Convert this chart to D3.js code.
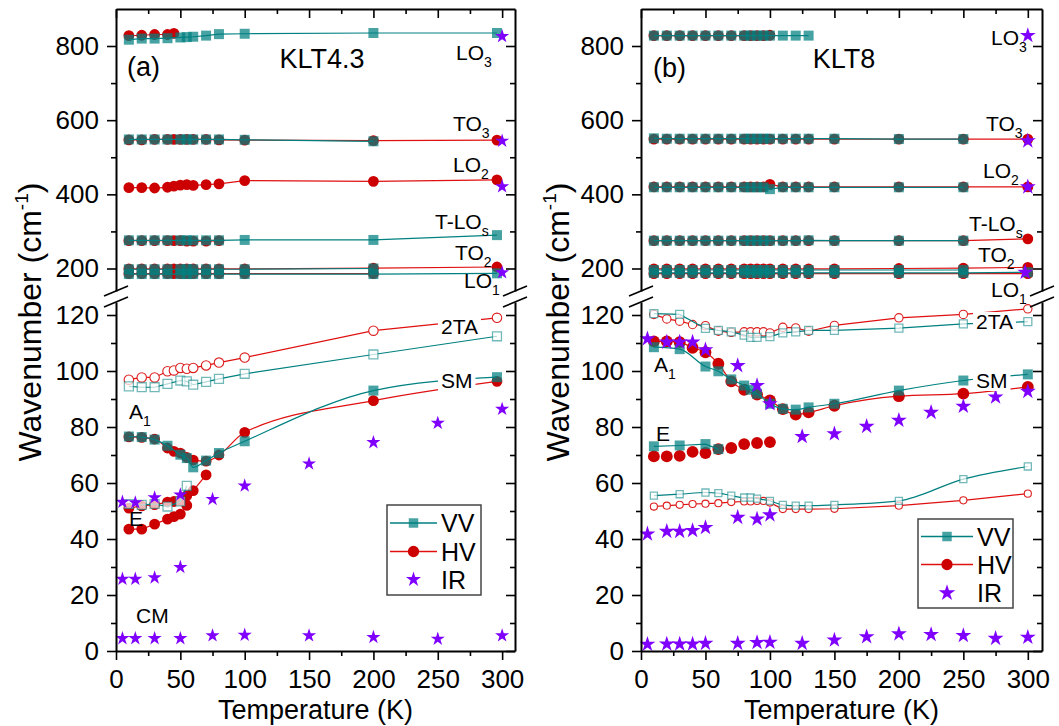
<!DOCTYPE html>
<html><head><meta charset="utf-8">
<script src="https://cdn.jsdelivr.net/npm/d3@7"></script>
<style>body{margin:0;background:#fff} text{font-family:"Liberation Sans",Arial,sans-serif;fill:#000}</style>
</head><body><svg id="c" width="1059" height="726" xmlns="http://www.w3.org/2000/svg"></svg>
<script>
// ---------------- DATA ----------------
// Panel (a) KLT4.3 temperatures
const T_HV_A = [10,20,30,40,45,50,55,60,70,80,100,200,296];
const T_VV_A = [10,20,30,40,50,55,60,70,80,100,200,296];
// upper (high-frequency) modes, panel a
const A_LO3_HV_T = [10,20,30,40,45];
const A_LO3_HV = [828,829,831,831,834];
const A_LO3_VV = [817,820,820,821,823,824,825,828,832,833,835,835];
const A_TO3_HV = [547,547,548,548,548,548,548,548,548,547,546,545,546];
const A_TO3_VV_T = [10,20,30,40,50,55,60,70,80,100,200];
const A_TO3_VV = [548,548,548,548,548,548,548,548,548,547,543];
const A_LO2_HV = [418,418,417,419,422,425,426,424,426,428,437,435,439];
const A_TLO_HV_T = [10,20,30,40,45,50,55,60,70,80];
const A_TLO_HV = [275,275,275,275,275,275,274,274,274,275];
const A_TLO_VV = [276,276,276,276,276,276,276,276,276,277,277,290];
const A_TO2_HV = [199,199,199,199,199,199,199,199,199,199,199,201,204];
const A_TO2_VV_T = [10,20,30,40,50,55,60,70,80,100,200];
const A_TO2_VV = [198,198,198,198,198,198,198,198,198,198,200];
const A_LO1_HV_T = [10,20,30,40,45,50,55,60,70,80,100,200];
const A_LO1_HV = [186,186,186,186,186,186,186,186,186,186,186,186];
const A_LO1_VV = [185,185,185,185,185,185,185,185,185,185,185,187];
// low-frequency modes, panel a
const A_2TA_HV = [96.9,97.7,97.7,99.9,100.2,101.1,100.8,101.1,102.0,103.0,104.8,114.4,119.0];
const A_2TA_VV = [94.5,94.2,94.2,95.4,96.6,96.3,95.1,96.1,97.2,99.0,105.9,112.4];
const A_A1_HV = [76.5,76.3,75.7,72.5,71.3,70.7,69.1,68.2,67.8,70.0,78.1,89.4,96.3];
const A_A1_VV = [76.6,76.4,75.5,73.3,70.1,68.9,65.6,68.0,70.7,74.9,93.0,97.8];
const A_E_HV_T = [10,20,30,40,45,50,55,60,70];
const A_E_HV = [43.5,43.5,45.3,47.1,48.0,48.9,52.0,57.3,62.9];
const A_E2_HV_T = [10,20,30,40,45,50,55];
const A_E2_HV = [51.0,51.8,52.3,53.2,53.4,53.8,55.5];
const A_E2_VV_T = [10,20,30,40,50,55];
const A_E2_VV = [52.5,52.2,52.5,51.6,53.4,59.0];
// IR, panel a
const IR_A_UP_T = [300,300,300,300];
const IR_A_UP = [826,544,421,189];
const IR_A_T1 = [5,15,30,50,75,100,150,200,250,300];
const IR_A_1 = [53.2,53.0,54.8,55.8,54.2,59.0,66.9,74.5,81.4,86.4];
const IR_A_T2 = [5,15,30,50];
const IR_A_2 = [25.7,25.7,26.2,29.9];
const IR_A_T3 = [5,15,30,50,75,100,150,200,250,300];
const IR_A_3 = [4.5,4.5,4.5,4.5,5.5,5.7,5.5,4.9,4.3,5.5];

// Panel (b) KLT8 temperatures
const T_B = [10,20,30,40,50,60,70,80,85,90,95,100,110,120,130,150,200,250,300];
const T_B_VV = [10,30,50,60,70,80,85,90,100,110,120,130,150,200,250,300];
const T_B_UP_VV = [10,20,30,40,50,60,70,80,85,90,95,100,110,120,130,150,200,250];
// upper modes, panel b
const B_LO3_HV_T = [10,20,30,40,50,60,70,80,85,90,95,100];
const B_LO3_HV = [828,828,828,828,828,828,828,828,828,828,828,829];
const B_LO3_VV_T = [10,20,30,40,50,60,70,80,85,90,95,100,110,120,130];
const B_LO3_VV = [828,828,828,828,828,828,828,828,828,828,828,828,828,828,828];
const B_TO3_HV = [549,549,549,549,549,549,549,549,549,549,549,549,549,549,549,549,549,549,549];
const B_TO3_VV = [551,550,550,550,550,550,550,550,550,550,550,550,550,550,550,550,549,549];
const B_LO2_HV = [420,420,420,420,420,420,420,420,420,420,420,427,420,420,420,420,420,420,420];
const B_LO2_VV = [419,419,419,419,419,419,419,419,419,419,419,414,419,419,419,419,419,419];
const B_TLO_HV = [275,275,275,275,275,275,275,275,275,275,275,275,275,275,275,275,275,275,280];
const B_TLO_VV = [275,275,275,275,275,275,275,275,275,275,275,275,275,275,276,275,275,275];
const B_TO2_HV = [199,199,199,199,199,199,199,199,199,199,199,199,199,199,199,199,200,201,203];
const B_TO2_VV = [196,196,196,196,196,196,196,196,196,196,196,196,196,196,196,196,196,196];
const B_LO1_HV = [186,186,186,186,186,186,186,186,186,186,186,186,186,186,186,186,186,186,186];
const B_LO1_VV = [188,188,188,188,188,188,188,188,188,188,188,188,188,188,188,188,188,188,190];
// low modes, panel b
const B_2TA_HV = [120.2,118.6,117.8,116.6,116.2,114.2,113.8,114.0,114.0,114.0,114.0,113.6,115.6,115.4,114.2,116.3,119.0,120.2,122.2];
const B_2TA_VV = [120.5,120.2,115.2,114.5,114.0,112.8,112.0,112.0,112.3,113.6,114.0,114.5,114.5,115.3,116.8,117.6];
const B_A1_HV_T = [10,20,30,40,50,60,70,80,90,100,110,120,130,150,200,250,300];
const B_A1_HV = [110.6,110.6,110.3,108.3,106.7,102.6,96.3,93.3,91.6,89.5,86.4,84.4,85.2,87.6,91.0,91.9,94.3];
const B_A1_VV = [108.5,107.8,101.6,99.9,97.0,94.8,93.3,91.9,88.3,86.5,86.2,87.0,88.3,93.0,96.6,98.8];
const B_E_VV_T = [10,30,50,60];
const B_E_VV = [73.1,73.4,73.9,72.1];
const B_E_HV_T = [10,20,30,40,50,60,70,80,90,100];
const B_E_HV = [69.5,69.5,69.7,71.1,70.7,72.1,72.5,73.9,74.3,74.6];
const B_LOW_VV = [55.5,56.0,56.6,56.4,55.5,54.8,54.8,54.4,53.6,52.2,51.9,51.9,52.2,53.6,61.4,65.9];
const B_LOW_HV = [51.6,51.9,52.2,52.5,52.6,52.8,53.2,53.4,53.4,53.6,53.6,53.0,50.7,50.7,50.7,50.8,51.9,53.8,56.2];
// IR, panel b
const IR_B_UP_T = [300,300,300,298];
const IR_B_UP = [828,544,420,190];
const IR_B_T1 = [5,20,30,40,50,75,90,100,125,150,175,200,225,250,275,300];
const IR_B_1 = [111.5,110.3,110.3,110.3,107.6,101.9,94.8,88.3,76.6,77.6,80.2,82.4,85.2,87.4,90.7,92.7];
const IR_B_T2 = [5,20,30,40,50,75,90,100];
const IR_B_2 = [41.8,42.7,42.7,43.0,44.1,47.7,47.1,48.6];
const IR_B_3 = [2.4,2.5,2.5,2.5,2.7,2.7,3.0,3.1,2.7,3.9,5.1,6.1,5.9,5.5,4.5,4.9];

// axis ticks
const X_TICKS = [0,50,100,150,200,250,300];
const X_MINOR = [25,75,125,175,225,275];
const YU_TICKS = [200,400,600,800];
const YU_MINOR = [300,500,700];
const YL_TICKS = [0,20,40,60,80,100,120];
const YL_MINOR = [10,30,50,70,90,110];
const LEGEND = ['VV','HV','IR'];

// ---------------- STYLE ----------------
const TEAL = '#008080', TEAL_FILL = 'rgba(0,128,128,0.72)';
const RED = '#cc0000', RED_LINE = '#e01010', PURPLE = '#8000ff';
const TOP = 9, BOTTOM = 651, BRK_U = 291, BRK_L = 302;

const svg = d3.select('#c');

function S(T, v, kind, o = {}) { return Object.assign({T, v, kind}, o); }

const panels = [
  { left:116, right:515, xmax:310, ytx:30, starSize:62,
    series:[
      S(A_LO3_HV_T, A_LO3_HV,'HV',{line:1}), S(T_VV_A, A_LO3_VV,'VV',{line:1}),
      S(T_HV_A, A_TO3_HV,'HV',{line:1}), S(A_TO3_VV_T, A_TO3_VV,'VV',{line:1}),
      S(T_HV_A, A_LO2_HV,'HV',{line:1}),
      S(A_TLO_HV_T, A_TLO_HV,'HV',{line:1}), S(T_VV_A, A_TLO_VV,'VV',{line:1}),
      S(T_HV_A, A_TO2_HV,'HV',{line:1}), S(A_TO2_VV_T, A_TO2_VV,'VV',{line:1}),
      S(A_LO1_HV_T, A_LO1_HV,'HV',{line:1}), S(T_VV_A, A_LO1_VV,'VV',{line:1}),
      S(T_HV_A, A_2TA_HV,'HV',{line:1, open:1, size:70}), S(T_VV_A, A_2TA_VV,'VV',{line:1, open:1, size:80}),
      S(T_HV_A, A_A1_HV,'HV',{line:1, curve:d3.curveMonotoneX}), S(T_VV_A, A_A1_VV,'VV',{line:1, curve:d3.curveMonotoneX}),
      S(A_E_HV_T, A_E_HV,'HV',{line:1}),
      S(A_E2_HV_T, A_E2_HV,'HV',{line:1}), S(A_E2_VV_T, A_E2_VV,'VV',{line:1, open:1, size:80}),
      S(IR_A_UP_T, IR_A_UP,'IR'), S(IR_A_T1, IR_A_1,'IR'), S(IR_A_T2, IR_A_2,'IR'), S(IR_A_T3, IR_A_3,'IR')
    ],
    labels:[
      ['LO','3',456,60],['TO','3',453,131],['LO','2',453,172],['T-LO','s',435,229],
      ['TO','2',455,260],['LO','1',464,288],['2TA','',441,334,1],['SM','',441,388,1],
      ['A','1',129,419],['E','',129,526],['CM','',136,623]
    ],
    tag:['(a)',127,76], title:['KLT4.3',322,68],
    legend:{x:387,y:505,w:94,h:90,rows:[523,551.5,579.5],lx0:390,lx1:437,tx:441}
  },
  { left:641, right:1042, xmax:311, ytx:558, starSize:78,
    series:[
      S(B_LO3_HV_T, B_LO3_HV,'HV',{line:1}), S(B_LO3_VV_T, B_LO3_VV,'VV',{line:1}),
      S(T_B, B_TO3_HV,'HV',{line:1}), S(T_B_UP_VV, B_TO3_VV,'VV',{line:1}),
      S(T_B, B_LO2_HV,'HV',{line:1}), S(T_B_UP_VV, B_LO2_VV,'VV',{line:1}),
      S(T_B, B_TLO_HV,'HV',{line:1}), S(T_B_UP_VV, B_TLO_VV,'VV',{line:1}),
      S(T_B, B_TO2_HV,'HV',{line:1}), S(T_B_UP_VV, B_TO2_VV,'VV',{line:1}),
      S(T_B, B_LO1_HV,'HV',{line:1}), S(T_B, B_LO1_VV,'VV',{line:1}),
      S(T_B, B_2TA_HV,'HV',{line:1, open:1, size:55}), S(T_B_VV, B_2TA_VV,'VV',{line:1, open:1, size:64}),
      S(B_A1_HV_T, B_A1_HV,'HV',{line:1, curve:d3.curveMonotoneX, size:110}), S(T_B_VV, B_A1_VV,'VV',{line:1, curve:d3.curveMonotoneX, size:100}),
      S(B_E_HV_T, B_E_HV,'HV',{size:110}), S(B_E_VV_T, B_E_VV,'VV',{line:1, size:100}),
      S(T_B, B_LOW_HV,'HV',{line:1, open:1, size:40}), S(T_B_VV, B_LOW_VV,'VV',{line:1, open:1, size:50, curve:d3.curveMonotoneX}),
      S(IR_B_UP_T, IR_B_UP,'IR'), S(IR_B_T1, IR_B_1,'IR'), S(IR_B_T2, IR_B_2,'IR'), S(IR_B_T1, IR_B_3,'IR')
    ],
    labels:[
      ['LO','3',991,45],['TO','3',986,131],['LO','2',983,178],['T-LO','s',969,231],
      ['TO','2',978,262],['LO','1',991,297],['2TA','',976,329,1],['SM','',976,388,1],
      ['A','1',654,372],['E','',656,441]
    ],
    tag:['(b)',653,77], title:['KLT8',844,68],
    legend:{x:918,y:519,w:95,h:89,rows:[536.5,564.5,593],lx0:921,lx1:973,tx:977}
  }
];

function drawPanel(P) {
  const g = svg.append('g');
  const x = d3.scaleLinear([0, P.xmax], [P.left, P.right]);
  const yU = d3.scaleLinear([800 - (BRK_U - 46) / 0.37083, 800 + 37 / 0.37083], [BRK_U, TOP]);
  const yL = d3.scaleLinear([0, (BOTTOM - BRK_L) / 2.8], [BOTTOM, BRK_L]);
  const Y = v => v >= 140 ? yU(v) : yL(v);

  const layers = {HVl:g.append('g'), HVm:g.append('g'), VVl:g.append('g'), VVm:g.append('g'), IR:g.append('g')};
  P.series.forEach(s => {
    const pts = s.T.map((t, i) => [x(t), Y(s.v[i])]);
    if (s.kind === 'IR') {
      pts.forEach(p => layers.IR.append('path').attr('transform', `translate(${p})`)
        .attr('d', d3.symbol(d3.symbolStar, P.starSize)()).attr('fill', PURPLE));
      return;
    }
    const isVV = s.kind === 'VV';
    if (s.line) {
      (isVV ? layers.VVl : layers.HVl).append('path')
        .attr('d', d3.line().curve(s.curve || d3.curveLinear)(pts))
        .attr('fill', 'none').attr('stroke', isVV ? TEAL : RED_LINE).attr('stroke-width', 1.2);
    }
    const type = isVV ? d3.symbolSquare : d3.symbolCircle;
    const size = s.size || (isVV ? 100 : 92);
    pts.forEach(p => {
      const m = (isVV ? layers.VVm : layers.HVm).append('path').attr('transform', `translate(${p})`)
        .attr('d', d3.symbol(type, size)());
      if (s.open) {
        if (isVV) m.attr('fill', 'rgba(255,255,255,0.7)').attr('stroke', 'rgba(0,128,128,0.55)').attr('stroke-width', 1.3);
        else m.attr('fill', '#fff').attr('stroke', '#dd1f1f').attr('stroke-width', 1.1);
      } else m.attr('fill', isVV ? TEAL_FILL : RED);
    });
  });

  // labels
  P.labels.forEach(([main, sub, lx, ly, bg]) => {
    const t = g.append('text').attr('x', lx).attr('y', ly).attr('font-size', 21);
    t.append('tspan').text(main);
    if (sub) t.append('tspan').attr('font-size', 14).attr('dy', 7).text(sub);
    if (bg) {
      const b = t.node().getBBox();
      g.insert('rect', () => t.node()).attr('x', b.x - 3).attr('y', b.y + 2).attr('width', b.width + 6)
        .attr('height', b.height - 3).attr('fill', '#fff');
    }
  });
  g.append('text').attr('x', P.tag[1]).attr('y', P.tag[2]).attr('font-size', 27).text(P.tag[0]);
  g.append('text').attr('x', P.title[1]).attr('y', P.title[2]).attr('font-size', 27)
    .attr('text-anchor', 'middle').text(P.title[0]);

  // axes
  const ax = g.append('g');
  const style = sel => {
    sel.selectAll('.domain').attr('stroke', '#000').attr('stroke-width', 2);
    sel.selectAll('.tick line').attr('stroke', '#000').attr('stroke-width', 1.6);
    sel.selectAll('.tick text').attr('font-size', 26).attr('font-family', '"Liberation Sans",Arial,sans-serif');
  };
  const add = (axisFn, scale, tv, size, pad, tr, label, domain) => {
    const a = axisFn(scale).tickValues(tv).tickSize(size).tickSizeOuter(0).tickPadding(pad);
    if (!label) a.tickFormat('');
    const s = ax.append('g').attr('transform', tr).call(a);
    if (!domain) s.select('.domain').remove();
    style(s);
  };
  [[yU, YU_TICKS, YU_MINOR], [yL, YL_TICKS, YL_MINOR]].forEach(([sc, maj, min]) => {
    add(d3.axisLeft, sc, maj, 9, 8, `translate(${P.left},0)`, true, true);
    add(d3.axisLeft, sc, min, 5, 8, `translate(${P.left},0)`, false, false);
    add(d3.axisLeft, sc, maj, 9, 8, `translate(${P.right},0)`, false, true);
    add(d3.axisLeft, sc, min, 5, 8, `translate(${P.right},0)`, false, false);
  });
  add(d3.axisBottom, x, X_TICKS, 9, 10, `translate(0,${BOTTOM})`, true, true);
  add(d3.axisBottom, x, X_MINOR, 5, 10, `translate(0,${BOTTOM})`, false, false);
  add(d3.axisBottom, x, X_TICKS, 9, 10, `translate(0,${TOP})`, false, true);
  add(d3.axisBottom, x, X_MINOR, 5, 10, `translate(0,${TOP})`, false, false);

  // axis breaks
  [P.left, P.right].forEach(bx => {
    [BRK_U, BRK_L].forEach(by => {
      ax.append('line').attr('x1', bx - 12).attr('y1', by + 5).attr('x2', bx + 12).attr('y2', by - 5)
        .attr('stroke', '#000').attr('stroke-width', 1.6);
    });
  });

  // axis titles
  g.append('text').attr('x', (P.left + P.right) / 2).attr('y', 719).attr('text-anchor', 'middle')
    .attr('font-size', 27).text('Temperature (K)');
  const yt = g.append('text').attr('transform', `translate(${P.ytx},322) rotate(-90)`)
    .attr('text-anchor', 'middle').attr('font-size', 32).attr('dy', '0.35em');
  yt.append('tspan').text('Wavenumber (cm');
  yt.append('tspan').attr('font-size', 19).attr('dy', -13).text('-1');
  yt.append('tspan').attr('dy', 13).text(')');

  // legend
  const L = P.legend;
  const lg = g.append('g');
  lg.append('rect').attr('x', L.x).attr('y', L.y).attr('width', L.w).attr('height', L.h)
    .attr('fill', '#fff').attr('stroke', '#444').attr('stroke-width', 1.5);
  LEGEND.forEach((name, i) => {
    const ly = L.rows[i], mx = (L.lx0 + L.lx1) / 2;
    if (name !== 'IR') lg.append('line').attr('x1', L.lx0).attr('x2', L.lx1).attr('y1', ly).attr('y2', ly)
      .attr('stroke', name === 'VV' ? TEAL : RED_LINE).attr('stroke-width', 1.3);
    const type = name === 'VV' ? d3.symbolSquare : name === 'HV' ? d3.symbolCircle : d3.symbolStar;
    lg.append('path').attr('transform', `translate(${mx},${ly})`)
      .attr('d', d3.symbol(type, name === 'IR' ? P.starSize + 8 : (name === 'VV' ? 90 : 100))())
      .attr('fill', name === 'VV' ? TEAL_FILL : name === 'HV' ? RED : PURPLE);
    lg.append('text').attr('x', L.tx).attr('y', ly + 9).attr('font-size', 25).text(name);
  });
}
panels.forEach(drawPanel);
</script></body></html>
